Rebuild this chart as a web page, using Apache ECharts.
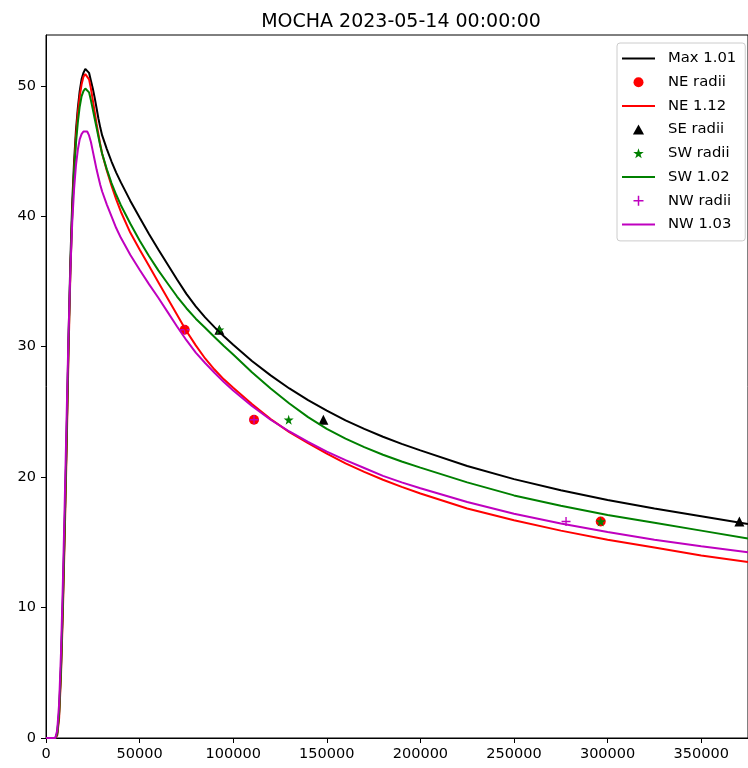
<!DOCTYPE html>
<html>
<head>
<meta charset="utf-8">
<title>MOCHA 2023-05-14 00:00:00</title>
<script src="https://cdn.jsdelivr.net/npm/echarts@6/dist/echarts.min.js"></script>
<style>
  html, body { margin: 0; padding: 0; background: #fff; }
  #main { width: 748px; height: 768px; }
</style>
</head>
<body>
<div id="main"></div>
<script>
// radius (m) shared by all profiles
const radius = [0, 5000, 6000, 7000, 8000, 9000, 10000, 11000, 12000, 13000, 14000, 15000, 16000, 17000,
  18000, 19000, 20000, 21000, 22000, 23000, 24000, 25000, 26000, 27000, 28000, 29000, 30000,
  32500, 35000, 37500, 40000, 45000, 50000, 55000, 60000, 65000, 70000, 75000, 80000, 85000, 90000, 95000,
  100000, 110000, 120000, 130000, 140000, 150000, 160000, 170000, 180000, 190000,
  200000, 225000, 250000, 275000, 300000, 325000, 350000, 375000];

const maxWind = [0, 0, 0.4, 2.0, 5.5, 10.5, 16.5, 23.0, 30.5, 36.5, 41.0, 44.2, 46.6, 48.3,
  49.6, 50.5, 51.0, 51.3, 51.3, 51.0, 50.4, 49.8, 49.1, 48.3, 47.5, 46.8, 46.2,
  45.15, 44.2, 43.35, 42.6, 41.2, 39.9, 38.65, 37.45, 36.3, 35.15, 34.05, 33.1, 32.25, 31.5, 30.8,
  30.15, 28.9, 27.8, 26.8, 25.9, 25.1, 24.35, 23.7, 23.1, 22.55,
  22.05, 20.85, 19.85, 19.0, 18.25, 17.6, 17.0, 16.4];

const neWind = [0, 0, 0.2, 1.5, 4.8, 9.6, 15.5, 22.0, 29.3, 35.5, 40.2, 43.6, 46.1, 47.9,
  49.2, 50.1, 50.7, 50.9, 50.9, 50.5, 49.8, 48.9, 48.0, 47.1, 46.3, 45.5, 44.8,
  43.5, 42.35, 41.3, 40.35, 38.75, 37.45, 36.2, 34.95, 33.7, 32.45, 31.2, 30.1, 29.1, 28.25, 27.5,
  26.85, 25.6, 24.45, 23.45, 22.6, 21.8, 21.05, 20.4, 19.8, 19.25,
  18.75, 17.6, 16.7, 15.9, 15.2, 14.6, 14.0, 13.5];

const swWind = [0, 0, 0.3, 1.8, 5.2, 10.2, 16.2, 22.8, 30.0, 35.8, 40.2, 43.4, 45.6, 47.2,
  48.4, 49.2, 49.6, 49.8, 49.8, 49.5, 48.9, 48.2, 47.5, 46.8, 46.1, 45.4, 44.8,
  43.6, 42.55, 41.65, 40.85, 39.45, 38.15, 36.95, 35.85, 34.85, 33.85, 32.95, 32.15, 31.45, 30.75, 30.05,
  29.4, 28.05, 26.8, 25.65, 24.6, 23.7, 22.95, 22.3, 21.72, 21.2,
  20.73, 19.6, 18.6, 17.8, 17.1, 16.5, 15.9, 15.3];

const nwWind = [0, 0, 0.6, 2.6, 6.5, 11.8, 18.0, 24.5, 30.8, 35.8, 39.5, 42.1, 43.9, 45.1,
  45.9, 46.3, 46.5, 46.5, 46.5, 46.2, 45.7, 45.0, 44.3, 43.6, 43.0, 42.4, 41.9,
  40.9, 40.0, 39.1, 38.35, 37.05, 35.9, 34.8, 33.75, 32.65, 31.55, 30.5, 29.55, 28.75, 28.0, 27.3,
  26.65, 25.45, 24.4, 23.5, 22.7, 21.95, 21.3, 20.7, 20.1, 19.6,
  19.15, 18.1, 17.2, 16.45, 15.8, 15.2, 14.7, 14.25];

// wind radii (m) for each quadrant at the three thresholds
const windLevels = [31.3, 24.4, 16.6];
const neRadii = [74080, 111120, 296320];
const seRadii = [92600, 148160, 370400];
const swRadii = [92600, 129640, 296320];
const nwRadii = [74080, 111120, 277800];

const xTicks = [0, 50000, 100000, 150000, 200000, 250000, 300000, 350000];
const yTicks = [0, 10, 20, 30, 40, 50];

const pairs = (xs, ys) => xs.map((x, i) => [x, ys[i]]);

const starPath = 'path://M10,0L12.245,6.91L19.511,6.91L13.633,11.18L15.878,18.09L10,13.82L4.122,18.09L6.367,11.18L0.489,6.91L7.755,6.91Z';
const plusPath = 'path://M4.25,0H5.75V10H4.25Z M0,4.25H10V5.75H0Z';
const trianglePath = 'path://M5,0L10,9H0Z';
const linePath = 'path://M0,0H33V2H0Z';

const font = 'DejaVu Sans';
const lineSeries = (name, color, data) => ({
  name: name,
  type: 'line',
  symbol: 'none',
  smooth: false,
  data: data,
  lineStyle: { color: color, width: 2 },
  itemStyle: { color: color }
});
const radiiSeries = (name, color, symbol, size, data) => ({
  name: name,
  type: 'scatter',
  symbol: symbol,
  symbolSize: size,
  data: data,
  itemStyle: { color: color, opacity: 1 }
});

const myChart = echarts.init(document.getElementById('main'));

const option = {
  animation: false,
  backgroundColor: '#fff',
  title: {
    text: 'MOCHA 2023-05-14 00:00:00',
    left: 396,
    top: 8,
    textAlign: 'center',
    textStyle: { fontFamily: font, fontSize: 19, fontWeight: 'normal', color: '#000' }
  },
  legend: {
    orient: 'vertical',
    left: 617,
    top: 43,
    padding: [8, 9, 9, 5],
    itemWidth: 33,
    itemHeight: 10,
    itemGap: 8.7,
    backgroundColor: 'rgba(255,255,255,0.8)',
    borderColor: '#cccccc',
    borderWidth: 1,
    borderRadius: 3,
    textStyle: { fontFamily: font, fontSize: 14.8, color: '#000', padding: [0, 0, 0, 8] },
    data: [
      { name: 'Max 1.01', icon: linePath },
      { name: 'NE radii', icon: 'circle' },
      { name: 'NE 1.12', icon: linePath },
      { name: 'SE radii', icon: trianglePath },
      { name: 'SW radii', icon: starPath },
      { name: 'SW 1.02', icon: linePath },
      { name: 'NW radii', icon: plusPath },
      { name: 'NW 1.03', icon: linePath }
    ]
  },
  grid: {
    left: 46,
    top: 35,
    right: -4,
    bottom: 30,
    show: true,
    borderColor: '#000',
    borderWidth: 1,
    containLabel: false
  },
  xAxis: {
    type: 'value',
    min: 0,
    max: 375000,
    interval: 50000,
    splitLine: { show: false },
    axisLine: { show: true, lineStyle: { color: '#000', width: 1 } },
    axisTick: { show: true, inside: false, length: 5, customValues: xTicks, lineStyle: { color: '#000' } },
    axisLabel: {
      customValues: xTicks,
      margin: 9,
      fontFamily: font,
      fontSize: 14.5,
      color: '#000',
      formatter: (v) => String(v)
    }
  },
  yAxis: {
    type: 'value',
    min: 0,
    max: 53.9,
    interval: 10,
    splitLine: { show: false },
    axisLine: { show: true, lineStyle: { color: '#000', width: 1 } },
    axisTick: { show: true, inside: false, length: 5, customValues: yTicks, lineStyle: { color: '#000' } },
    axisLabel: {
      customValues: yTicks,
      margin: 10,
      fontFamily: font,
      fontSize: 14.5,
      color: '#000',
      formatter: (v) => String(v)
    }
  },
  series: [
    lineSeries('Max 1.01', '#000000', pairs(radius, maxWind)),
    radiiSeries('NE radii', '#ff0000', 'circle', 10, pairs(neRadii, windLevels)),
    lineSeries('NE 1.12', '#ff0000', pairs(radius, neWind)),
    radiiSeries('SE radii', '#000000', 'triangle', 10, pairs(seRadii, windLevels)),
    radiiSeries('SW radii', '#008000', starPath, 10, pairs(swRadii, windLevels)),
    lineSeries('SW 1.02', '#008000', pairs(radius, swWind)),
    radiiSeries('NW radii', '#bf00bf', plusPath, 9, pairs(nwRadii, windLevels)),
    lineSeries('NW 1.03', '#bf00bf', pairs(radius, nwWind))
  ]
};

myChart.setOption(option);
</script>
</body>
</html>
